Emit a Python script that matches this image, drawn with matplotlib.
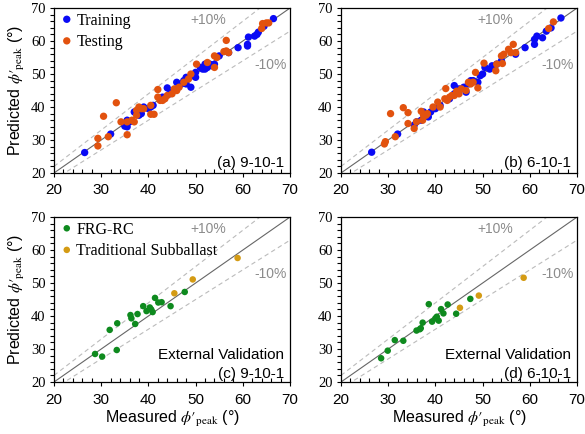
import numpy as np
import matplotlib
matplotlib.use('Agg')
import matplotlib.pyplot as plt
from matplotlib.ticker import MultipleLocator

# panel (a) 9-10-1 : training / testing (measured, predicted)
a_train_x = [26.5, 32.0, 35.0, 35.5, 35.5, 36.0, 37.0, 38.0, 38.5, 39.0, 40.0, 40.5, 41.0,
             43.0, 44.0, 44.5, 45.0, 46.0, 47.0, 47.5, 48.0, 48.0, 49.0, 49.5, 50.0, 50.0,
             51.0, 51.5, 52.0, 52.0, 52.5, 53.0, 53.5, 54.0, 55.0, 57.0, 59.0, 61.0, 61.0,
             61.2, 62.5, 63.0, 63.3, 64.5, 66.5]
a_train_y = [26.2, 31.8, 34.2, 34.0, 36.0, 35.5, 38.5, 37.5, 38.0, 40.0, 39.5, 40.0, 40.5,
             43.0, 45.8, 44.0, 44.5, 47.5, 47.0, 48.0, 49.0, 47.0, 46.0, 49.5, 50.5, 49.0,
             52.0, 51.5, 53.0, 51.5, 52.0, 53.0, 52.5, 53.0, 55.5, 56.5, 58.0, 58.5, 59.0,
             61.2, 61.5, 62.0, 62.7, 64.5, 66.8]
a_test_x = [29.3, 29.3, 30.5, 31.5, 33.2, 34.2, 35.5, 35.5, 36.5, 37.0, 37.5, 37.5, 38.0,
            38.5, 39.0, 40.5, 40.5, 41.2, 42.0, 42.0, 42.5, 43.0, 43.5, 44.0, 45.0, 45.5,
            46.0, 46.5, 47.5, 48.5, 49.0, 50.2, 52.5, 54.0, 54.0, 54.5, 56.0, 56.5, 56.5,
            57.0, 64.0, 64.2, 65.0, 65.5]
a_test_y = [30.5, 28.2, 37.2, 31.0, 41.3, 35.5, 31.6, 35.5, 36.0, 35.5, 37.5, 39.0, 40.0,
            39.5, 39.5, 40.5, 37.8, 37.8, 43.0, 45.3, 42.0, 42.0, 42.5, 43.5, 44.0, 45.5,
            45.0, 46.0, 47.5, 48.5, 50.0, 53.0, 53.5, 52.0, 55.5, 55.0, 56.8, 60.2, 57.0,
            56.5, 63.8, 65.3, 65.5, 65.5]

# panel (b) 6-10-1
b_train_x = [26.5, 32.0, 35.5, 36.0, 37.0, 37.5, 38.5, 39.0, 40.0, 41.0, 43.0, 44.0, 44.0,
             45.0, 46.0, 46.5, 47.0, 47.5, 48.0, 49.0, 49.5, 50.0, 50.5, 51.5, 52.0, 53.0,
             54.0, 57.0, 59.0, 61.0, 61.0, 61.5, 62.7, 63.5, 64.5, 66.6]
b_train_y = [26.3, 31.8, 34.5, 35.5, 36.0, 38.5, 37.0, 38.5, 39.5, 40.5, 42.5, 46.5, 44.0,
             45.5, 46.0, 44.5, 47.0, 48.0, 48.0, 47.5, 49.5, 50.0, 52.0, 51.5, 52.5, 53.0,
             54.0, 56.0, 58.0, 59.0, 60.5, 61.5, 61.0, 63.0, 64.0, 67.0]
b_test_x = [29.2, 29.4, 30.5, 31.5, 33.2, 34.2, 34.2, 35.5, 36.0, 37.0, 37.3, 37.5, 38.0,
            38.3, 39.5, 40.5, 41.0, 42.0, 42.2, 42.5, 43.0, 43.5, 44.0, 44.5, 45.0, 45.5,
            46.5, 47.0, 47.5, 48.0, 48.5, 49.0, 50.3, 52.8, 53.0, 54.0, 54.2, 54.5, 55.5,
            56.0, 56.5, 57.0, 64.0, 65.0]
b_test_y = [28.8, 29.5, 38.0, 31.0, 39.8, 38.3, 35.0, 33.5, 35.5, 38.7, 36.0, 37.5, 37.5,
            38.0, 40.0, 41.5, 40.0, 42.5, 45.6, 42.0, 43.0, 43.5, 43.5, 44.8, 44.0, 45.5,
            45.0, 47.5, 47.0, 47.5, 50.5, 45.8, 53.3, 51.0, 53.0, 55.5, 53.2, 56.0, 57.5,
            56.5, 59.0, 56.5, 63.8, 65.8]

# panel (c) 9-10-1 external validation
c_frg_x = [28.7, 30.2, 33.3, 31.8, 33.4, 36.2, 36.4, 37.2, 37.7, 38.9, 39.6, 40.3, 40.6,
           40.9, 41.4, 42.1, 42.8, 44.7, 47.7]
c_frg_y = [28.5, 27.7, 29.7, 35.8, 37.8, 40.3, 39.3, 37.6, 40.6, 43.0, 41.5, 42.6, 42.0,
           41.2, 45.5, 44.1, 44.2, 43.0, 47.3]
c_trad_x = [45.5, 49.4, 58.9]
c_trad_y = [46.9, 51.1, 57.6]

# panel (d) 6-10-1 external validation
d_frg_x = [28.5, 29.9, 31.4, 33.2, 36.0, 36.7, 36.9, 37.3, 38.6, 39.3, 40.0, 40.3, 40.7,
           41.2, 41.7, 42.6, 44.4, 47.4]
d_frg_y = [27.2, 29.5, 32.7, 32.5, 35.6, 36.0, 36.3, 38.0, 43.6, 38.3, 39.3, 39.8, 38.6,
           42.1, 40.8, 43.5, 40.7, 45.2]
d_trad_x = [45.2, 49.2, 58.7]
d_trad_y = [42.5, 46.2, 51.6]

blue = '#0a0af5'
orange = '#e2520e'
green = '#0e8a1e'
gold = '#d49b14'

plt.rcParams['font.family'] = ['Liberation Sans', 'DejaVu Sans']
plt.rcParams['mathtext.fontset'] = 'stix'

fig = plt.figure(figsize=(5.85, 4.34), dpi=100)
w, h = 0.4034, 0.380
axa = fig.add_axes([0.0923, 0.6014, w, h])
axb = fig.add_axes([0.5829, 0.6014, w, h])
axc = fig.add_axes([0.0923, 0.1198, w, h])
axd = fig.add_axes([0.5829, 0.1198, w, h])

line = np.array([20, 70])


def setup(ax, tag, external=False):
    ax.set_xlim(20, 70)
    ax.set_ylim(20, 70)
    ax.plot(line, line, color='#666666', lw=0.8, zorder=1)
    ax.plot(line, 1.1 * line, color='#bbbbbb', lw=0.8, ls=(0, (4, 3)), zorder=1)
    ax.plot(line, 0.9 * line, color='#bbbbbb', lw=0.8, ls=(0, (4, 3)), zorder=1)
    ax.text(52.7, 66.4, '+10%', color='#8c8c8c', fontsize=10, ha='center', va='center')
    ax.text(65.9, 52.7, '-10%', color='#8c8c8c', fontsize=10, ha='center', va='center')
    ax.xaxis.set_major_locator(MultipleLocator(10))
    ax.yaxis.set_major_locator(MultipleLocator(10))
    ax.xaxis.set_minor_locator(MultipleLocator(2))
    ax.yaxis.set_minor_locator(MultipleLocator(2))
    ax.tick_params(axis='both', which='major', direction='out', length=3, width=0.8, pad=3)
    ax.tick_params(axis='x', which='major', pad=5 if external else 4)
    ax.tick_params(axis='x', which='minor', direction='in', length=3, width=0.8)
    ax.tick_params(axis='y', which='minor', direction='out', length=3, width=0.8)
    for lab in ax.get_xticklabels():
        lab.set_fontsize(11)
    for lab in ax.get_yticklabels():
        lab.set_fontfamily('Liberation Serif')
        lab.set_fontsize(10.5)
    for s in ax.spines.values():
        s.set_linewidth(0.9)
    if external:
        ax.text(0.975, 0.164, 'External Validation', transform=ax.transAxes,
                ha='right', va='center', fontsize=11)
        ax.text(0.975, 0.048, tag, transform=ax.transAxes,
                ha='right', va='center', fontsize=11)
    else:
        ax.text(0.975, 0.06, tag, transform=ax.transAxes,
                ha='right', va='center', fontsize=11)


setup(axa, '(a) 9-10-1')
setup(axb, '(b) 6-10-1')
setup(axc, '(c) 9-10-1', external=True)
setup(axd, '(d) 6-10-1', external=True)

axa.scatter(a_train_x, a_train_y, s=28, color=blue, edgecolors='none', label='Training', zorder=3)
axa.scatter(a_test_x, a_test_y, s=28, color=orange, edgecolors='none', label='Testing', zorder=4)
axb.scatter(b_train_x, b_train_y, s=28, color=blue, edgecolors='none', zorder=3)
axb.scatter(b_test_x, b_test_y, s=28, color=orange, edgecolors='none', zorder=4)

axc.scatter(c_frg_x, c_frg_y, s=22, color=green, edgecolors='none', label='FRG-RC', zorder=3)
axc.scatter(c_trad_x, c_trad_y, s=22, color=gold, edgecolors='none',
            label='Traditional Subballast', zorder=3)
axd.scatter(d_frg_x, d_frg_y, s=22, color=green, edgecolors='none', zorder=3)
axd.scatter(d_trad_x, d_trad_y, s=22, color=gold, edgecolors='none', zorder=3)

for ax in (axa, axc):
    ax.legend(loc='upper left', frameon=False, prop={'family': 'Liberation Serif', 'size': 11.5},
              handletextpad=0.1, labelspacing=0.35, borderaxespad=0.1, borderpad=0.2,
              handlelength=1.0, scatteryoffsets=[0.5])

ylab = r"Predicted $ϕ′_{\mathrm{peak}}$ (°)"
xlab = r"Measured $ϕ′_{\mathrm{peak}}$ (°)"
axa.set_ylabel(ylab, fontsize=11.5, labelpad=3)
axc.set_ylabel(ylab, fontsize=11.5, labelpad=3)
axc.set_xlabel(xlab, fontsize=11.5, labelpad=1)
axd.set_xlabel(xlab, fontsize=11.5, labelpad=1)

fig.savefig('out.png', dpi=100)
